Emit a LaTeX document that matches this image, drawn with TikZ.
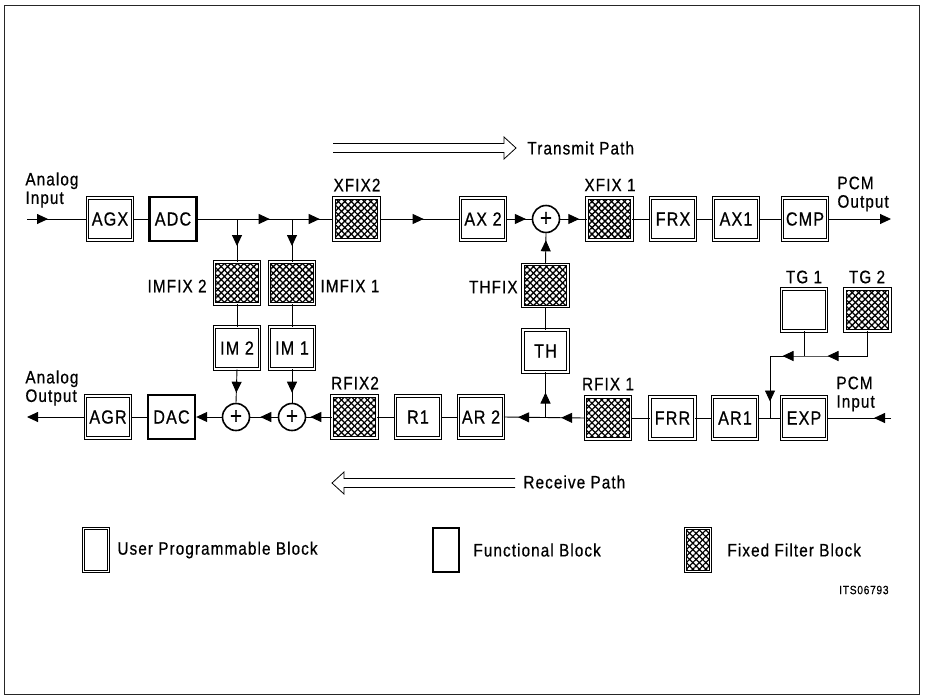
\documentclass[tikz,border=0pt]{standalone}
\usepackage{fontspec}
\setmainfont{Liberation Sans}[FakeStretch=0.85, LetterSpace=6, FakeBold=0.6]
\usetikzlibrary{arrows.meta,patterns.meta,decorations.markings}
\newcommand{\lbl}{\fontsize{19}{20}\selectfont}
\newcommand{\sml}{\fontsize{18}{18.5}\selectfont}
\tikzset{
  tri/.tip={Triangle[length=11pt,width=10pt]},
  ub/.style={draw, double, double distance=1.5pt, line width=0.8pt, minimum width=45pt, minimum height=42pt, inner sep=0pt, font=\lbl},
  fb/.style={draw, line width=2.4pt, minimum width=47pt, minimum height=44pt, inner sep=0pt, font=\lbl},
  ff/.style={ub, preaction={pattern={Lines[angle=45,distance=4.6pt,line width=1.3pt]}}, pattern={Lines[angle=-45,distance=4.6pt,line width=1.3pt]}},
  sum/.style={circle, draw, line width=1.6pt, minimum size=27pt, inner sep=0pt, font=\fontsize{24}{24}\selectfont},
  lab/.style={font=\sml, inner sep=0pt},
  am/.style={postaction={decorate, decoration={markings, mark=at position #1 with {\arrow{tri}}}}},
}
\begin{document}
\begin{tikzpicture}[x=1pt,y=-1pt,line width=0.9pt]
\useasboundingbox (0,0) rectangle (925,696);
\draw[line width=1pt, black!85] (4,5) rectangle (919,694);

% top row
\node[ub] (AGX) at (110,219) {AGX};
\node[fb] (ADC) at (173,219) {ADC};
\node[ff] (XFIX2) at (356.5,219) {};
\node[ub] (AX2) at (483,219) {AX 2};
\node[sum] (S1) at (546,219) {+};
\node[ff] (XFIX1) at (609.5,219) {};
\node[ub] (FRX) at (673,219) {FRX};
\node[ub] (AX1) at (736,219) {AX1};
\node[ub] (CMP) at (805,219) {CMP};
\coordinate (in1) at (27,219);
\coordinate (out1) at (891,219);
\coordinate (b1) at (237,219);
\coordinate (b2) at (292,219);

% middle
\node[ff] (IMFIX2) at (237,283) {};
\node[ff] (IMFIX1) at (292,283) {};
\node[ub] (IM2) at (237,348) {IM 2};
\node[ub] (IM1) at (292,348) {IM 1};
\node[ff] (THFIX) at (545.5,285.5) {};
\node[ub] (TH) at (545.5,351) {TH};
\node[ub] (TG1) at (804,310) {};
\node[ff] (TG2) at (867.5,310) {};

% bottom row
\node[ub] (AGR) at (108,417) {AGR};
\node[fb] (DAC) at (171.5,417) {DAC};
\node[sum] (S2) at (236,417) {+};
\node[sum] (S3) at (292,417) {+};
\node[ff] (RFIX2) at (354.5,417) {};
\node[ub] (R1) at (418,417) {R1};
\node[ub] (AR2) at (481,417) {AR 2};
\node[ff] (RFIX1) at (608,418) {};
\node[ub] (FRR) at (672.5,418) {FRR};
\node[ub] (AR1) at (735,418) {AR1};
\node[ub] (EXP) at (804,418) {EXP};
\coordinate (in2) at (891,418);
\coordinate (out2) at (27,417);
\coordinate (j1) at (770,418);
\coordinate (c1) at (770,356);
\coordinate (t1) at (804,356);
\coordinate (t2) at (867.5,356);
\coordinate (j2) at (545.5,417.5);

% top connectors
\draw[am=21pt] (in1) -- (AGX.west);
\draw (AGX) -- (ADC);
\draw[am=72pt, am=122pt] (ADC.east) -- (XFIX2.west);
\draw[am=27pt] (b1) -- (IMFIX2.north);
\draw[am=27pt] (b2) -- (IMFIX1.north);
\draw[am=44pt] (XFIX2.east) -- (AX2.west);
\draw[am=20pt] (AX2.east) -- (S1.west);
\draw[am=19pt] (S1.east) -- (XFIX1.west);
\draw (XFIX1) -- (FRX);
\draw (FRX) -- (AX1);
\draw (AX1) -- (CMP);
\draw[-tri] (CMP.east) -- (out1);
\draw[am={-7pt}] (THFIX.north) -- (S1.south);
\draw (THFIX.south) -- (TH.north);
\draw (IMFIX2.south) -- (IM2.north);
\draw (IMFIX1.south) -- (IM1.north);
\draw[am={-10pt}] (IM2.south) -- (S2.north);
\draw[am={-10pt}] (IM1.south) -- (S3.north);

% bottom connectors
\draw[am=17pt] (in2) -- (EXP.east);
\draw (EXP.west) -- (AR1.east);
\draw (TG1.south) -- (t1);
\draw[am=40pt, am=85pt, am=143pt] (t2) -- (t1) -- (c1) -- (j1);
\draw (TG2.south) -- (t2);
\draw (AR1) -- (FRR);
\draw (FRR) -- (RFIX1);
\draw[am=24pt, am=67pt] (RFIX1.west) -- (AR2.east);
\draw[am=25pt] (j2) -- (TH.south);
\draw (AR2) -- (R1);
\draw (R1) -- (RFIX2);
\draw[am={-4pt}] (RFIX2.west) -- (S3.east);
\draw[am={-10pt}] (S3.west) -- (S2.east);
\draw[-tri] (S2.west) -- (DAC.east);
\draw (DAC) -- (AGR);
\draw[-tri] (AGR.west) -- (out2);

% labels
\node[lab, align=left, anchor=west] (lai) at (25,190) {Analog\\Input};
\node[lab, align=left, anchor=west] (lao) at (25,388) {Analog\\Output};
\node[lab, align=left, anchor=west] (lpo) at (837,194) {PCM\\Output};
\node[lab, align=left, anchor=west] (lpi) at (836,394) {PCM\\Input};
\node[lab] (lx2) at (357,185) {XFIX2};
\node[lab] (lx1) at (610,185) {XFIX 1};
\node[lab, anchor=east] (lim2) at (207,286) {IMFIX 2};
\node[lab, anchor=west] (lim1) at (320,286) {IMFIX 1};
\node[lab, anchor=east] (lth) at (518,287) {THFIX};
\node[lab] (lr2) at (355,383) {RFIX2};
\node[lab] (lr1) at (608,384) {RFIX 1};
\node[lab] (ltg1) at (804,277) {TG 1};
\node[lab] (ltg2) at (867,277) {TG 2};

% path arrows
\draw[line width=0.8pt] (333,143.5) -- (504,143.5) -- (504,137) -- (516,148) -- (504,159) -- (504,152.5) -- (333,152.5);
\node[lab, anchor=west] (ltp) at (527,148) {Transmit Path};
\draw[line width=0.8pt] (515,478.5) -- (344,478.5) -- (344,472) -- (332,483) -- (344,494) -- (344,487.5) -- (515,487.5);
\node[lab, anchor=west] (lrp) at (523,482) {Receive Path};

% legend
\node[ub, minimum width=25pt, minimum height=43pt] (lg1) at (96,550) {};
\node[lab, anchor=west] (lt1) at (117,550) {User Programmable Block};
\node[fb, minimum width=26pt, minimum height=44pt] (lg2) at (446,550) {};
\node[lab, anchor=west] (lt2) at (473,550) {Functional Block};
\node[ff, minimum width=25pt, minimum height=43pt] (lg3) at (698,550) {};
\node[lab, anchor=west] (lt3) at (727,550) {Fixed Filter Block};
\node[lab, anchor=east, font=\fontsize{12}{13}\selectfont] (its) at (889,590) {ITS06793};
\end{tikzpicture}
\end{document}
